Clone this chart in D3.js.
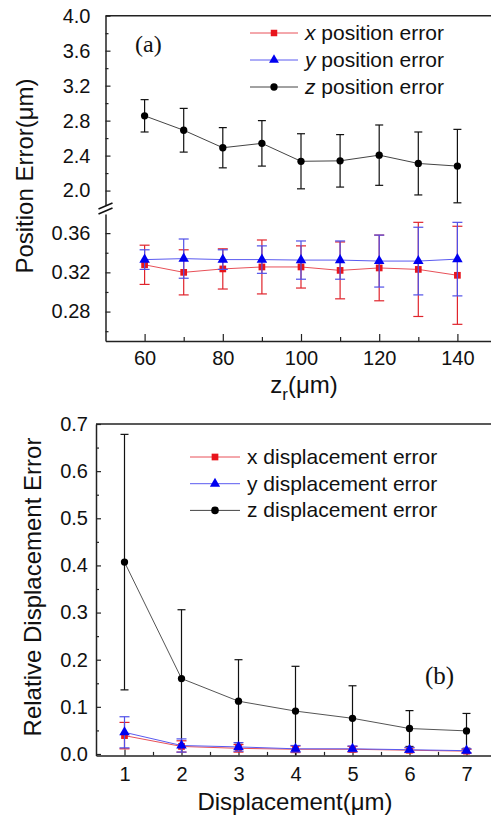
<!DOCTYPE html>
<html>
<head>
<meta charset="utf-8">
<script src="https://cdn.jsdelivr.net/npm/d3@7"></script>
<style>
  body { margin: 0; background: #fff; }
  svg { display: block; font-family: Arial, "Liberation Sans", sans-serif; }
  .domain { stroke: #222; stroke-width: 1.5; }
  .tick line { stroke: #222; stroke-width: 1.2; }
</style>
</head>
<body>
<div id="graph"></div>
<script>
// ---- data, panel (a) ----
const zr = [60, 70, 80, 90, 100, 110, 120, 130, 140];
const xPos = [0.3277, 0.320, 0.3235, 0.3255, 0.3255, 0.322, 0.3245, 0.323, 0.317];
const xPosErr = [0.020, 0.023, 0.0205, 0.0275, 0.0215, 0.029, 0.0335, 0.048, 0.050];
const yPos = [0.333, 0.334, 0.333, 0.333, 0.3325, 0.3325, 0.3315, 0.3315, 0.3335];
const yPosErr = [0.010, 0.020, 0.010, 0.014, 0.0195, 0.0195, 0.0265, 0.0345, 0.0375];
const zPos = [2.855, 2.69, 2.49, 2.54, 2.335, 2.34, 2.405, 2.31, 2.28];
const zPosErr = [0.185, 0.25, 0.23, 0.26, 0.315, 0.30, 0.345, 0.36, 0.42];
const zrTicks = [60, 80, 100, 120, 140];
const upperTicks = [2.0, 2.4, 2.8, 3.2, 3.6, 4.0];
const lowerTicks = [0.28, 0.32, 0.36];

// ---- data, panel (b) ----
const disp = [1, 2, 3, 4, 5, 6, 7];
const xDisp = [0.039, 0.016, 0.012, 0.010, 0.010, 0.008, 0.006];
const xDispErr = [0.028, 0.012, 0.008, 0.007, 0.006, 0.005, 0.004];
const yDisp = [0.046, 0.018, 0.015, 0.011, 0.011, 0.009, 0.007];
const yDispErr = [0.033, 0.014, 0.009, 0.007, 0.006, 0.005, 0.004];
const zDisp = [0.407, 0.160, 0.112, 0.091, 0.0757, 0.054, 0.049];
const zDispErr = [0.271, 0.146, 0.088, 0.095, 0.069, 0.038, 0.037];
const dispTicks = [1, 2, 3, 4, 5, 6, 7];
const relTicks = [0.0, 0.1, 0.2, 0.3, 0.4, 0.5, 0.6, 0.7];

const RED = "#e8141c", BLUE = "#0000f0", BLACK = "#000";
const TICK_FS = 20, TITLE_FS = 24, LEG_FS = 21;

const svg = d3.select("#graph").append("svg")
  .attr("width", 491).attr("height", 821);

// draw one series: line, error bars, markers
function drawSeries(g, xs, vals, errs, opt) {
  const pts = xs.map((d, i) => ({x: d, v: vals[i], e: errs[i]}));
  const line = d3.line().x(d => opt.x(d.x)).y(d => opt.y(d.v));
  g.append("path").datum(pts)
    .attr("d", line).attr("fill", "none")
    .attr("stroke", opt.lineColor).attr("stroke-width", 1);
  const lo = opt.lo !== undefined ? opt.lo : -Infinity;
  const eb = g.append("g").attr("stroke", opt.errColor).attr("stroke-width", 1.2);
  pts.forEach(d => {
    const cx = opt.x(d.x);
    const y1 = opt.y(d.v + d.e), y2 = opt.y(Math.max(lo, d.v - d.e));
    eb.append("line").attr("x1", cx).attr("x2", cx).attr("y1", y1).attr("y2", y2);
    eb.append("line").attr("x1", cx - opt.cap).attr("x2", cx + opt.cap).attr("y1", y1).attr("y2", y1);
    if (d.v - d.e >= lo)
      eb.append("line").attr("x1", cx - opt.cap).attr("x2", cx + opt.cap).attr("y1", y2).attr("y2", y2);
  });
  const sym = d3.symbol().type(opt.symbol).size(opt.size);
  g.append("g").selectAll("path").data(pts).join("path")
    .attr("transform", d => `translate(${opt.x(d.x)},${opt.y(d.v)})`)
    .attr("d", sym).attr("fill", opt.fill);
}

function styleText(g) {
  g.selectAll("text").attr("font-size", TICK_FS).attr("fill", "#111");
}

// ================= panel (a) =================
const xA = d3.scaleLinear().domain([50, 150]).range([105.5, 496.5]);
const yUp = d3.scaleLinear().domain([1.835, 4.0]).range([205, 15.7]);
const yLo = d3.scaleLinear().domain([0.25, 0.3795]).range([341, 214]);

const gA = svg.append("g");

// frame top
gA.append("line").attr("x1", xA(50)).attr("x2", 491).attr("y1", yUp(4.0)).attr("y2", yUp(4.0))
  .attr("stroke", "#222").attr("stroke-width", 1.5);

// x axis
gA.append("g").attr("transform", `translate(0,${yLo(0.25)})`)
  .call(d3.axisBottom(xA).tickValues(zrTicks).tickSizeInner(-7).tickSizeOuter(0).tickPadding(10))
  .call(styleText);
gA.append("g").attr("transform", `translate(0,${yLo(0.25)})`)
  .call(d3.axisBottom(xA).tickValues([70, 90, 110, 130]).tickSizeInner(-4).tickSizeOuter(0).tickFormat(""))
  .call(g => g.select(".domain").remove());

// y axis upper
gA.append("g").attr("transform", `translate(${xA(50)},0)`)
  .call(d3.axisLeft(yUp).tickValues(upperTicks).tickSizeInner(-5).tickSizeOuter(0).tickPadding(15).tickFormat(d3.format(".1f")))
  .call(styleText);
gA.append("g").attr("transform", `translate(${xA(50)},0)`)
  .call(d3.axisLeft(yUp).tickValues([2.2, 2.6, 3.0, 3.4, 3.8]).tickSizeInner(-3).tickSizeOuter(0).tickFormat(""))
  .call(g => g.select(".domain").remove());

// y axis lower
gA.append("g").attr("transform", `translate(${xA(50)},0)`)
  .call(d3.axisLeft(yLo).tickValues(lowerTicks).tickSizeInner(-5).tickSizeOuter(0).tickPadding(15).tickFormat(d3.format(".2f")))
  .call(styleText);
gA.append("g").attr("transform", `translate(${xA(50)},0)`)
  .call(d3.axisLeft(yLo).tickValues([0.26, 0.30, 0.34]).tickSizeInner(-3).tickSizeOuter(0).tickFormat(""))
  .call(g => g.select(".domain").remove());

// axis break marks
const bx = xA(50);
[206, 211].forEach(by => {
  gA.append("line").attr("x1", bx - 7).attr("x2", bx + 7).attr("y1", by + 3).attr("y2", by - 3)
    .attr("stroke", "#111").attr("stroke-width", 1.6);
});

drawSeries(gA, zr, zPos, zPosErr, {x: xA, y: yUp, lineColor: "#444", errColor: "#111", cap: 4,
  symbol: d3.symbolCircle, size: 42, fill: BLACK});
drawSeries(gA, zr, xPos, xPosErr, {x: xA, y: yLo, lineColor: "#e85058", errColor: "#e0242c", cap: 5,
  symbol: d3.symbolSquare, size: 45, fill: RED});
drawSeries(gA, zr, yPos, yPosErr, {x: xA, y: yLo, lineColor: "#5a5af0", errColor: "#5050e8", cap: 5,
  symbol: d3.symbolTriangle, size: 48, fill: BLUE});

// (a)
gA.append("text").attr("x", 135).attr("y", 52).attr("font-family", "'Liberation Serif', 'Times New Roman', serif")
  .attr("font-size", 24).attr("fill", "#111").text("(a)");

// axis titles
gA.append("text").attr("transform", "translate(33,176) rotate(-90)").attr("text-anchor", "middle")
  .attr("font-size", TITLE_FS).attr("fill", "#111").text("Position Error(\u03bcm)");
const zt = gA.append("text").attr("x", 304).attr("y", 393).attr("text-anchor", "middle")
  .attr("font-size", TITLE_FS).attr("fill", "#111");
zt.append("tspan").text("z");
zt.append("tspan").attr("font-size", 17).attr("dy", 7).text("r");
zt.append("tspan").attr("dy", -7).text("(\u03bcm)");

// legend (a)
const legA = [
  {name: "x", color: "#e85058", fill: RED, sym: d3.symbolSquare},
  {name: "y", color: "#5a5af0", fill: BLUE, sym: d3.symbolTriangle},
  {name: "z", color: "#444", fill: BLACK, sym: d3.symbolCircle}
];
legA.forEach((d, i) => {
  const ly = 33 + i * 27;
  gA.append("line").attr("x1", 250).attr("x2", 298).attr("y1", ly).attr("y2", ly)
    .attr("stroke", d.color).attr("stroke-width", 1);
  gA.append("path").attr("transform", `translate(274,${ly})`)
    .attr("d", d3.symbol().type(d.sym).size(42)).attr("fill", d.fill);
  const t = gA.append("text").attr("x", 305).attr("y", ly + 7).attr("font-size", LEG_FS).attr("fill", "#111");
  t.append("tspan").attr("font-style", "italic").text(d.name);
  t.append("tspan").text(" position error");
});

// ================= panel (b) =================
const xB = d3.scaleLinear().domain([0.5, 7.5]).range([96, 495]);
const yB = d3.scaleLinear().domain([-0.003, 0.7]).range([755.4, 424]);
const gB = svg.append("g");

gB.append("line").attr("x1", xB(0.5)).attr("x2", 491).attr("y1", yB(0.7)).attr("y2", yB(0.7))
  .attr("stroke", "#222").attr("stroke-width", 1.5);

gB.append("g").attr("transform", `translate(0,${yB(-0.003)})`)
  .call(d3.axisBottom(xB).tickValues(dispTicks).tickSizeInner(-6).tickSizeOuter(0).tickPadding(11).tickFormat(d3.format("d")))
  .call(styleText);
gB.append("g").attr("transform", `translate(0,${yB(-0.003)})`)
  .call(d3.axisBottom(xB).tickValues([1.5, 2.5, 3.5, 4.5, 5.5, 6.5]).tickSizeInner(-3.5).tickSizeOuter(0).tickFormat(""))
  .call(g => g.select(".domain").remove());

gB.append("g").attr("transform", `translate(${xB(0.5)},0)`)
  .call(d3.axisLeft(yB).tickValues(relTicks).tickSizeInner(-5).tickSizeOuter(0).tickPadding(8).tickFormat(d3.format(".1f")))
  .call(styleText);
gB.append("g").attr("transform", `translate(${xB(0.5)},0)`)
  .call(d3.axisLeft(yB).tickValues([0.05, 0.15, 0.25, 0.35, 0.45, 0.55, 0.65]).tickSizeInner(-3).tickSizeOuter(0).tickFormat(""))
  .call(g => g.select(".domain").remove());

drawSeries(gB, disp, zDisp, zDispErr, {x: xB, y: yB, lineColor: "#555", errColor: "#111", cap: 4,
  symbol: d3.symbolCircle, size: 42, fill: BLACK, lo: -0.003});
drawSeries(gB, disp, xDisp, xDispErr, {x: xB, y: yB, lineColor: "#e85058", errColor: "#e0242c", cap: 5,
  symbol: d3.symbolSquare, size: 45, fill: RED});
drawSeries(gB, disp, yDisp, yDispErr, {x: xB, y: yB, lineColor: "#5a5af0", errColor: "#5050e8", cap: 5,
  symbol: d3.symbolTriangle, size: 48, fill: BLUE});

gB.append("text").attr("x", 425).attr("y", 684).attr("font-family", "'Liberation Serif', 'Times New Roman', serif")
  .attr("font-size", 25).attr("fill", "#111").text("(b)");

gB.append("text").attr("transform", "translate(41,587) rotate(-90)").attr("text-anchor", "middle")
  .attr("font-size", TITLE_FS).attr("fill", "#111").text("Relative Displacement Error");
gB.append("text").attr("x", 295).attr("y", 810).attr("text-anchor", "middle")
  .attr("font-size", TITLE_FS).attr("fill", "#111").text("Displacement(\u03bcm)");

legA.forEach((d, i) => {
  const ly = 457 + i * 26.7;
  gB.append("line").attr("x1", 190).attr("x2", 240).attr("y1", ly).attr("y2", ly)
    .attr("stroke", d.color).attr("stroke-width", 1);
  gB.append("path").attr("transform", `translate(215,${ly})`)
    .attr("d", d3.symbol().type(d.sym).size(45)).attr("fill", d.fill);
  gB.append("text").attr("x", 247).attr("y", ly + 7).attr("font-size", LEG_FS).attr("fill", "#111")
    .text(d.name + " displacement error");
});
</script>
</body>
</html>
